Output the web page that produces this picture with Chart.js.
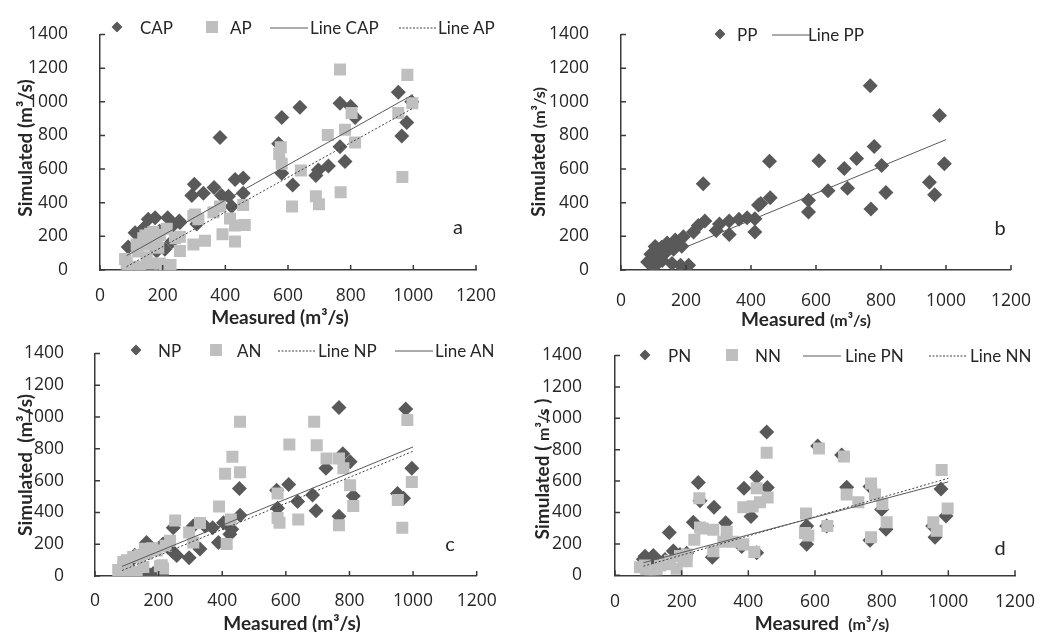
<!DOCTYPE html>
<html>
<head>
<meta charset="utf-8">
<script src="https://cdn.jsdelivr.net/npm/chart.js@4.4.1/dist/chart.umd.min.js"></script>
<style>
  html, body { margin: 0; padding: 0; background: #fff; }
  body { width: 1040px; height: 632px; position: relative; overflow: hidden;
         font-family: Lato, "Open Sans", sans-serif; color: #262626; }
  canvas { position: absolute; }
  .t { position: absolute; white-space: nowrap; font-weight: 700; font-size: 19px;
       transform: translate(-50%, -50%); }
  .yt { transform: translate(-50%, -50%) rotate(-90deg); }
  .sm { font-size: 16px; }
  .lg { position: absolute; font-size: 17px; white-space: nowrap; transform: translateY(-50%); }
  .sym { position: absolute; transform: translate(-50%, -50%); line-height: 0; }
  .tag { position: absolute; font-size: 20px; transform: translate(-50%, -50%); }
</style>
</head>
<body>

<canvas id="cA" width="520" height="320" style="left:0;top:0"></canvas>
<canvas id="cB" width="524" height="320" style="left:520px;top:0"></canvas>
<canvas id="cC" width="520" height="312" style="left:0;top:320px"></canvas>
<canvas id="cD" width="524" height="312" style="left:520px;top:320px"></canvas>

<!-- axis titles -->
<div class="t yt" style="left:24px;top:148px">Simulated (m³/s)</div>
<div class="t" style="left:280px;top:316px">Measured (m³/s)</div>

<div class="t yt" style="left:537px;top:152px">Simulated <span class="sm">(m³/s)</span></div>
<div class="t" style="left:806px;top:318px">Measured <span class="sm">(m³/s)</span></div>

<div class="t yt" style="left:24px;top:465px">Simulated&nbsp; (m³/s)</div>
<div class="t" style="left:292px;top:622px">Measured (m³/s)</div>

<div class="t yt" style="left:541px;top:469px">Simulated ( <span class="sm">m³/s</span> )</div>
<div class="t" style="left:822px;top:622px">Measured&nbsp; <span class="sm">(m³/s)</span></div>

<div class="tag" style="left:458px;top:226px">a</div>
<div class="tag" style="left:1000px;top:227px">b</div>
<div class="tag" style="left:450px;top:543px">c</div>
<div class="tag" style="left:1000px;top:547px">d</div>

<div id="legends"></div>

<script>
/* ================================
   DATA  (measured, simulated) m3/s
================================ */

const X_TICKS = [0, 200, 400, 600, 800, 1000, 1200];
const Y_TICKS = [0, 200, 400, 600, 800, 1000, 1200, 1400];

// panel a
const CAP = [[90,136],[112,221],[117,150],[130,180],[140,250],[154,302],[170,200],[176,311],[181,113],
  [190,230],[207,123],[216,311],[230,170],[234,268],[253,292],[255,283],[293,443],[301,510],[309,274],
  [330,457],[364,491],[383,787],[388,443],[410,438],[420,378],[431,538],[457,547],[457,457],[570,751],
  [580,906],[580,575],[615,506],[638,968],[689,562],[697,594],[729,619],[766,991],[766,732],[782,645],
  [800,972],[814,906],[952,1057],[963,796],[979,877],[995,1000]];
const AP = [[80,66],[85,38],[90,20],[101,0],[110,10],[128,19],[120,110],[117,151],[138,189],[145,205],
  [149,75],[155,150],[160,215],[165,38],[170,226],[175,190],[181,151],[186,132],[191,38],[191,208],
  [207,28],[213,245],[225,30],[239,189],[255,113],[255,198],[298,151],[298,321],[303,330],[314,302],
  [335,174],[362,343],[383,377],[391,213],[415,306],[431,264],[431,170],[457,387],[462,268],[572,689],
  [577,730],[580,632],[613,377],[641,591],[689,438],[699,391],[727,802],[766,1192],[768,462],[782,834],
  [803,934],[814,758],[952,934],[965,553],[981,1160],[997,991]];
const lineCAP = [[85,85],[998,1042]];
const lineAP = [[85,20],[1000,963]];

// panel b
const PP = [[82,47],[92,94],[102,19],[105,140],[112,123],[118,60],[125,135],[127,56],[132,94],[142,160],
  [145,120],[157,38],[162,123],[167,179],[183,28],[187,141],[192,198],[208,28],[223,226],[238,264],
  [253,512],[258,292],[293,235],[303,273],[333,292],[333,211],[363,301],[388,311],[412,305],[412,226],
  [423,386],[430,395],[459,429],[457,646],[577,414],[577,345],[609,650],[637,471],[687,603],[697,486],
  [725,663],[767,1096],[769,363],[779,734],[802,621],[815,461],[949,522],[965,448],[980,919],[995,631]];
const linePP = [[85,45],[1000,775]];

// panel c
const NP = [[80,30],[95,60],[110,90],[125,130],[141,16],[150,150],[162,211],[173,6],[183,16],[199,6],
  [210,6],[214,201],[230,180],[241,160],[246,304],[246,150],[257,129],[296,115],[309,314],[330,170],
  [346,314],[370,304],[388,211],[404,335],[424,263],[430,294],[454,550],[456,382],[571,540],[574,427],
  [609,575],[637,468],[684,509],[695,411],[726,678],[767,1060],[767,376],[779,770],[802,719],[812,503],
  [951,519],[970,489],[977,1051],[996,678]];
const AN = [[73,37],[89,47],[89,88],[100,16],[100,99],[110,27],[120,16],[120,119],[131,26],[140,130],
  [152,57],[157,171],[162,140],[180,175],[194,160],[204,62],[210,68],[214,47],[222,190],[236,222],
  [252,349],[296,273],[309,211],[330,334],[390,437],[409,643],[414,201],[427,355],[432,751],[456,971],
  [456,653],[574,519],[574,365],[580,335],[611,827],[639,355],[689,971],[697,823],[728,739],[767,739],
  [767,320],[781,678],[802,571],[812,441],[952,478],[966,304],[982,981],[996,591]];
const lineNP = [[85,35],[1000,785]];
const lineAN = [[85,60],[1000,812]];

// panel d
const PN = [[85,103],[90,122],[110,109],[115,126],[130,90],[150,100],[163,273],[175,155],[195,133],
  [215,140],[235,338],[250,591],[255,475],[292,115],[297,434],[332,334],[380,183],[387,555],[408,374],
  [425,143],[425,625],[455,913],[457,559],[575,314],[575,197],[608,823],[635,314],[680,767],[695,561],
  [765,565],[765,223],[800,419],[813,294],[953,314],[960,243],[978,549],[993,378]];
const NN = [[75,52],[90,62],[93,12],[105,12],[115,36],[125,8],[135,62],[150,70],[165,93],[185,42],
  [195,123],[205,100],[215,89],[215,133],[238,227],[253,491],[255,304],[263,298],[295,290],[295,153],
  [325,213],[335,278],[355,213],[385,197],[385,434],[413,439],[418,149],[425,555],[435,465],[455,781],
  [458,495],[570,270],[573,394],[580,254],[612,807],[637,314],[687,757],[695,515],[730,465],[768,585],
  [768,243],[780,515],[802,455],[815,338],[955,338],[965,284],[980,670],[998,425]];
const linePN = [[85,80],[1000,595]];
const lineNN = [[85,58],[1000,618]];

/* ================================
   STYLE
================================ */

const FONT = "'Open Sans', Lato, sans-serif";
const DARK = "#595959";
const LIGHT = "#bfbfbf";
const AXIS = "#3a3a3a";
const TXT = "#262626";

const pts = arr => arr.map(([x, y]) => ({ x, y }));

function diamonds(label, arr) {
  return { label, data: pts(arr), pointStyle: "rectRot", pointRadius: 7.5,
           backgroundColor: DARK, borderWidth: 0, order: 3 };
}
function squares(label, arr) {
  return { label, data: pts(arr), pointStyle: "rect", pointRadius: 8.5,
           backgroundColor: LIGHT, borderWidth: 0, order: 2 };
}
function trend(label, arr, dotted) {
  return { label, data: pts(arr), showLine: true, pointRadius: 0, fill: false,
           borderColor: dotted ? "#404040" : DARK, borderWidth: 1,
           borderDash: dotted ? [2, 2] : [], order: 1 };
}

// tick marks drawn inward, Excel style
const innerTicks = {
  id: "innerTicks",
  afterDraw(chart) {
    const { ctx, chartArea: a, scales: { x, y } } = chart;
    ctx.save();
    ctx.strokeStyle = AXIS;
    ctx.lineWidth = 1.5;
    ctx.beginPath();
    x.ticks.forEach(t => {
      const p = x.getPixelForValue(t.value);
      ctx.moveTo(p, a.bottom); ctx.lineTo(p, a.bottom - 5);
    });
    y.ticks.forEach(t => {
      const p = y.getPixelForValue(t.value);
      ctx.moveTo(a.left, p); ctx.lineTo(a.left + 5, p);
    });
    ctx.stroke();
    ctx.restore();
  }
};

function buildChart(id, o) {
  return new Chart(document.getElementById(id), {
    type: "scatter",
    data: { datasets: o.datasets },
    options: {
      responsive: false, animation: false, devicePixelRatio: 1,
      layout: { padding: { left: 0, top: o.top, right: o.right, bottom: 0 } },
      plugins: { legend: { display: false }, tooltip: { enabled: false } },
      scales: {
        x: {
          type: "linear", min: 0, max: 1200,
          afterBuildTicks: s => { s.ticks = X_TICKS.map(v => ({ value: v })); },
          afterFit: s => { s.height = o.xH; },
          grid: { display: false },
          border: { color: AXIS, width: 1.5 },
          ticks: { padding: o.xPad, color: TXT, maxRotation: 0, autoSkip: false,
                   callback: v => String(v), font: { family: FONT, size: 17.5 } }
        },
        y: {
          type: "linear", min: 0, max: 1400,
          afterBuildTicks: s => { s.ticks = Y_TICKS.map(v => ({ value: v })); },
          afterFit: s => { s.width = o.yW; },
          grid: { display: false },
          border: { color: AXIS, width: 1.5 },
          ticks: { padding: o.yPad, color: TXT, autoSkip: false,
                   callback: v => String(v), font: { family: FONT, size: 17.5 } }
        }
      }
    },
    plugins: [innerTicks]
  });
}

buildChart("cA", { top: 23, right: 44, xH: 50, yW: 100, xPad: 8, yPad: 24,
  datasets: [trend("Line CAP", lineCAP), trend("Line AP", lineAP, true),
             squares("AP", AP), diamonds("CAP", CAP)] });

buildChart("cB", { top: 22, right: 24, xH: 50, yW: 101, xPad: 13, yPad: 24,
  datasets: [trend("Line PP", linePP), diamonds("PP", PP)] });

buildChart("cC", { top: 28.7, right: 43.3, xH: 56, yW: 95, xPad: 7, yPad: 23,
  datasets: [trend("Line NP", lineNP, true), trend("Line AN", lineAN),
             squares("AN", AN), diamonds("NP", NP)] });

buildChart("cD", { top: 23.3, right: 29, xH: 56.7, yW: 95, xPad: 8, yPad: 25,
  datasets: [trend("Line PN", linePN), trend("Line NN", lineNN, true),
             squares("NN", NN), diamonds("PN", PN)] });

/* ================================
   LEGENDS (html, over the plot)
================================ */

function symbol(kind) {
  if (kind === "diamond")
    return `<svg width="11" height="11"><polygon points="5.5,0 11,5.5 5.5,11 0,5.5" fill="${DARK}"/></svg>`;
  if (kind === "square")
    return `<svg width="12" height="12"><rect width="12" height="12" fill="${LIGHT}"/></svg>`;
  const dash = kind === "dotted" ? `stroke-dasharray="2,1.5"` : "";
  const col = kind === "dotted" ? "#404040" : DARK;
  return `<svg width="38" height="4"><line x1="0" y1="2" x2="38" y2="2" stroke="${col}" stroke-width="1" ${dash}/></svg>`;
}

function legend(cy, items) {
  const box = document.getElementById("legends");
  items.forEach(([kind, sx, text, tx]) => {
    box.innerHTML += `<div class="sym" style="left:${sx}px;top:${cy}px">${symbol(kind)}</div>` +
                     `<div class="lg" style="left:${tx}px;top:${cy}px">${text}</div>`;
  });
}

legend(27, [["diamond", 117, "CAP", 140], ["square", 212, "AP", 230],
            ["solid", 289, "Line CAP", 310], ["dotted", 418, "Line AP", 438]]);
legend(34, [["diamond", 720, "PP", 737], ["solid", 791, "Line PP", 808]]);
legend(350, [["diamond", 136, "NP", 158], ["square", 216, "AN", 237],
             ["dotted", 297, "Line NP", 318], ["solid", 414, "Line AN", 435]]);
legend(355, [["diamond", 645, "PN", 668], ["square", 732, "NN", 755],
             ["solid", 822, "Line PN", 845], ["dotted", 948, "Line NN", 970]]);
</script>
</body>
</html>
